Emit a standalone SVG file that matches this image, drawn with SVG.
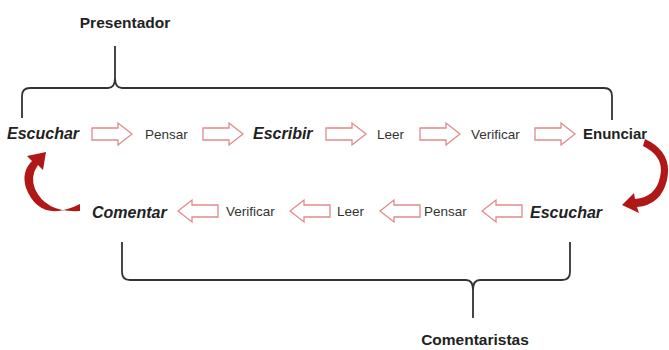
<svg xmlns="http://www.w3.org/2000/svg" width="669" height="350" viewBox="0 0 669 350">
<style>
.t{font-family:"Liberation Sans",Arial,sans-serif;font-size:13.5px;fill:#333}
.b{font-family:"Liberation Sans",Arial,sans-serif;font-size:16px;font-weight:bold;font-style:italic;fill:#222}
.e{font-family:"Liberation Sans",Arial,sans-serif;font-size:15px;font-weight:bold;fill:#222}
.l{font-family:"Liberation Sans",Arial,sans-serif;font-size:15.5px;font-weight:bold;fill:#222}
.br{fill:none;stroke:#333;stroke-width:1.8}
.ha{fill:#fff;stroke:#e08a8a;stroke-width:1.3}
.ca{fill:#b01818}
</style>
<defs>
<path id="ar" d="M0,-6 H26 V-11 L40,0 L26,11 V6 H0 Z"/>
<path id="al" d="M40,-6 H14 V-11 L0,0 L14,11 V6 H40 Z"/>
</defs>
<g id="presentador">
<path class="br" d="M22,118 V96 Q22,88 30,88 H108 Q115,88 115,78 V46 M115,78 Q115,88 122,88 H604 Q612,88 612,96 V120"/>
<text class="l" x="125" y="28" text-anchor="middle">Presentador</text>
</g>
<g id="comentaristas">
<path class="br" d="M122,242 V272 Q122,280 130,280 H466 Q473,280 473,290 V318 M473,290 Q473,280 480,280 H562 Q570,280 570,272 V242"/>
<text class="l" x="475" y="345" text-anchor="middle">Comentaristas</text>
</g>
<g id="n-escuchar1"><text class="b" x="7" y="139">Escuchar</text></g>
<g id="n-pensar1"><text class="t" x="145" y="139">Pensar</text></g>
<g id="n-escribir"><text class="b" x="253" y="139">Escribir</text></g>
<g id="n-leer1"><text class="t" x="377" y="139">Leer</text></g>
<g id="n-verificar1"><text class="t" x="471" y="139">Verificar</text></g>
<g id="n-enunciar"><text class="e" x="583" y="139">Enunciar</text></g>
<g id="n-escuchar2"><text class="b" x="530" y="218">Escuchar</text></g>
<g id="n-pensar2"><text class="t" x="424" y="216">Pensar</text></g>
<g id="n-leer2"><text class="t" x="337" y="216">Leer</text></g>
<g id="n-verificar2"><text class="t" x="226" y="216">Verificar</text></g>
<g id="n-comentar"><text class="b" x="92" y="218">Comentar</text></g>
<g id="connectors">
<use href="#ar" class="ha" x="92" y="134"/>
<use href="#ar" class="ha" x="203" y="134"/>
<use href="#ar" class="ha" x="326" y="134"/>
<use href="#ar" class="ha" x="420" y="134"/>
<use href="#ar" class="ha" x="535" y="134"/>
<use href="#al" class="ha" x="482" y="211"/>
<use href="#al" class="ha" x="380" y="211"/>
<use href="#al" class="ha" x="290" y="211"/>
<use href="#al" class="ha" x="178" y="211"/>
<path class="ca" d="M80,204 Q40,224 26,188 Q21,172 32,161 L27,156 L46,152 L43,170 L38,165 Q30,176 35,189 Q46,213 80,211 Z"/>
<path class="ca" d="M645,139 Q673,152 667,180 Q661,205 637,207 L639,213 L622,205 L634,193 L635,199 Q656,197 660,177 Q665,157 643,146 Z"/>
</g>
</svg>
